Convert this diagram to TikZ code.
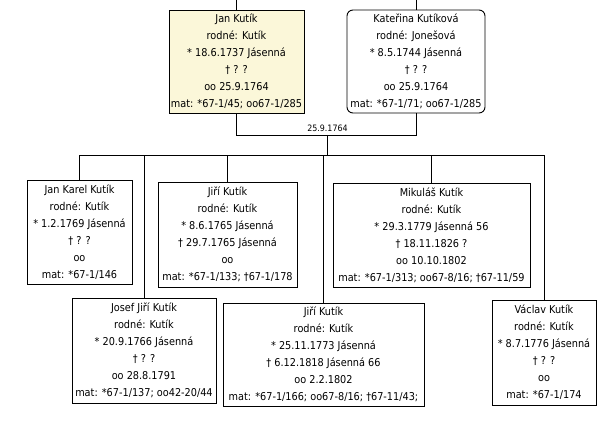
\documentclass[tikz,border=0pt]{standalone}
\usepackage{fontspec}
\setmainfont{DejaVu Sans Condensed}
\definecolor{selfill}{RGB}{251,247,217}
\tikzset{
  person/.style={draw=black, line width=0.9pt, align=center, inner sep=0pt,
    font=\fontsize{10.8}{17}\selectfont, fill=white},
  conn/.style={draw=black, line width=0.9pt},
  datelabel/.style={font=\fontsize{8.8}{10}\selectfont, inner sep=0pt}
}
\begin{document}
\begin{tikzpicture}[x=1pt,y=-1pt]
\useasboundingbox (0,0) rectangle (611,427);
% parents
\node[person, fill=selfill, minimum width=135, minimum height=103] (jan) at (236.5,61.5)
  {Jan Kutík\\rodné: Kutík\\* 18.6.1737 Jásenná\\† ? ?\\oo 25.9.1764\\mat: *67-1/45; oo67-1/285};
\node[person, rounded corners=6pt, minimum width=138, minimum height=103] (kat) at (416,61.5)
  {Kateřina Kutíková\\rodné: Jonešová\\* 8.5.1744 Jásenná\\† ? ?\\oo 25.9.1764\\mat: *67-1/71; oo67-1/285};
\coordinate (jantop) at (236.5,0);
\coordinate (kattop) at (416,0);
\coordinate (m) at (327.5,135);
\coordinate (bus) at (327.5,155);
\node[datelabel] (mlabel) at (327.5,128.5) {25.9.1764};
% children
\node[person, minimum width=105, minimum height=104] (jk) at (79.5,232)
  {Jan Karel Kutík\\rodné: Kutík\\* 1.2.1769 Jásenná\\† ? ?\\oo\\mat: *67-1/146};
\node[person, minimum width=139, minimum height=105] (j1) at (227.5,234.5)
  {Jiří Kutík\\rodné: Kutík\\* 8.6.1765 Jásenná\\† 29.7.1765 Jásenná\\oo\\mat: *67-1/133; †67-1/178};
\node[person, minimum width=197, minimum height=104] (mik) at (431.5,235)
  {Mikuláš Kutík\\rodné: Kutík\\* 29.3.1779 Jásenná 56\\† 18.11.1826 ?\\oo 10.10.1802\\mat: *67-1/313; oo67-8/16; †67-11/59};
\node[person, minimum width=144, minimum height=105] (jos) at (144,350.5)
  {Josef Jiří Kutík\\rodné: Kutík\\* 20.9.1766 Jásenná\\† ? ?\\oo 28.8.1791\\mat: *67-1/137; oo42-20/44};
\node[person, minimum width=201, minimum height=103] (j2) at (323.5,354.5)
  {Jiří Kutík\\rodné: Kutík\\* 25.11.1773 Jásenná\\† 6.12.1818 Jásenná 66\\oo 2.2.1802\\mat: *67-1/166; oo67-8/16; †67-11/43;};
\node[person, minimum width=104, minimum height=105] (vac) at (544,352.5)
  {Václav Kutík\\rodné: Kutík\\* 8.7.1776 Jásenná\\† ? ?\\oo\\mat: *67-1/174};
% connectors
\draw[conn] (jan.north) -- (jantop);
\draw[conn] (kat.north) -- (kattop);
\draw[conn] (jan.south) -- (jan.south |- m) -- (kat.south |- m) -- (kat.south);
\draw[conn] (m) -- (bus);
\draw[conn] (jk.north) -- (jk.north |- bus) -- (vac.north |- bus) -- (vac.north);
\draw[conn] (jos.north) -- (jos.north |- bus);
\draw[conn] (j1.north) -- (j1.north |- bus);
\draw[conn] (j2.north) -- (j2.north |- bus);
\draw[conn] (mik.north) -- (mik.north |- bus);
\end{tikzpicture}
\end{document}
